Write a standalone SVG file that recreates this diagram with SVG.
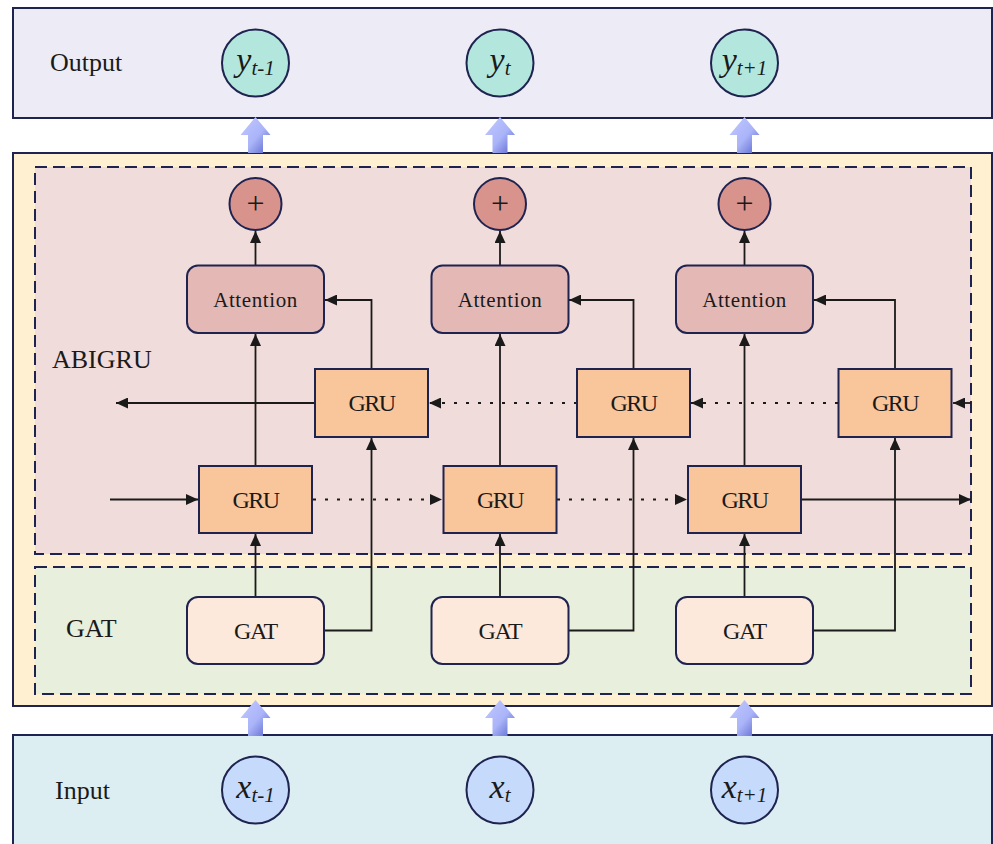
<svg xmlns="http://www.w3.org/2000/svg" width="993" height="844" viewBox="0 0 993 844">
  <style>
    .lbl { font-family: "Liberation Serif", "Times New Roman", serif; fill: #1a1a1a; }
    .sec { font-size: 26px; }
    .box { stroke: #1f2350; stroke-width: 2; }
    .gru { fill: #f9c59b; }
    .att { fill: #e4b9b5; }
    .gat { fill: #fde9dc; }
    .dash { stroke: #1f2350; stroke-width: 2; stroke-dasharray: 12 6; }
    .wire { fill: none; stroke: #1a1a1a; stroke-width: 1.8; }
    .dot { stroke-dasharray: 3 9; }
    .math { font-family: "Liberation Serif", "Times New Roman", serif; font-style: italic; fill: #1a1a1a; }
    .gtxt { font-size: 24px; letter-spacing: -1.5px; }
    .atxt { font-size: 21px; letter-spacing: 0.6px; }
    .ttxt { font-size: 24px; letter-spacing: -1.2px; }
    .ptxt { font-size: 32px; }
  </style>
  <defs>
    <marker id="ah" markerUnits="userSpaceOnUse" markerWidth="13" markerHeight="11" refX="12" refY="5.5" orient="auto">
      <path d="M0,0 L12,5.5 L0,11 z" fill="#1a1a1a"/>
    </marker>
    <linearGradient id="fat" x1="0" y1="0" x2="1" y2="1">
      <stop offset="0" stop-color="#c2c8ff"/>
      <stop offset="0.55" stop-color="#aab4f8"/>
      <stop offset="1" stop-color="#5663cc"/>
    </linearGradient>
  </defs>

  <!-- layer backgrounds -->
  <g id="output-layer">
    <rect x="13" y="8" width="979" height="110" fill="#edebf6" class="box"/>
    <text class="lbl sec" x="50" y="71">Output</text>
  </g>
  <g id="model-layer">
    <rect x="13" y="153" width="979" height="553" fill="#fef0d0" class="box"/>
  </g>
  <g id="abigru-layer">
    <rect x="35" y="167" width="936" height="387" fill="#f0dcdb" class="dash"/>
    <text class="lbl sec" x="52" y="368">ABIGRU</text>
  </g>
  <g id="gat-layer">
    <rect x="35" y="567" width="936" height="127" fill="#e8efdc" class="dash"/>
    <text class="lbl sec" x="66" y="637">GAT</text>
  </g>
  <g id="input-layer">
    <rect x="13" y="735" width="979" height="115" fill="#dceef2" class="box"/>
    <text class="lbl sec" x="55" y="799">Input</text>
  </g>

  <!-- transfer arrows between layers -->
  <g id="layer-arrows" fill="url(#fat)">
    <path d="M255.5,117 L270.5,135 L263,135 L263,153 L248,153 L248,135 L240.5,135 Z"/>
    <path d="M500,117 L515,135 L507.5,135 L507.5,153 L492.5,153 L492.5,135 L485,135 Z"/>
    <path d="M744.5,117 L759.5,135 L752,135 L752,153 L737,153 L737,135 L729.5,135 Z"/>
    <path d="M255.5,700 L270.5,718 L263,718 L263,736 L248,736 L248,718 L240.5,718 Z"/>
    <path d="M500,700 L515,718 L507.5,718 L507.5,736 L492.5,736 L492.5,718 L485,718 Z"/>
    <path d="M744.5,700 L759.5,718 L752,718 L752,736 L737,736 L737,718 L729.5,718 Z"/>
  </g>

  <!-- connectors -->
  <g id="connectors">
    <!-- attention to sum -->
    <path class="wire" d="M255.5,265 V231" marker-end="url(#ah)"/>
    <path class="wire" d="M500,265 V231" marker-end="url(#ah)"/>
    <path class="wire" d="M744.5,265 V231" marker-end="url(#ah)"/>
    <!-- forward GRU to attention -->
    <path class="wire" d="M255.5,466 V334" marker-end="url(#ah)"/>
    <path class="wire" d="M500,466 V334" marker-end="url(#ah)"/>
    <path class="wire" d="M744.5,466 V334" marker-end="url(#ah)"/>
    <!-- backward GRU to attention -->
    <path class="wire" d="M371.5,369 V300 H325" marker-end="url(#ah)"/>
    <path class="wire" d="M633.5,369 V300 H569" marker-end="url(#ah)"/>
    <path class="wire" d="M895,369 V300 H814" marker-end="url(#ah)"/>
    <!-- GAT to forward GRU -->
    <path class="wire" d="M255.5,597 V534" marker-end="url(#ah)"/>
    <path class="wire" d="M500,597 V534" marker-end="url(#ah)"/>
    <path class="wire" d="M744.5,597 V534" marker-end="url(#ah)"/>
    <!-- GAT to backward GRU -->
    <path class="wire" d="M324,630.5 H371.5 V438" marker-end="url(#ah)"/>
    <path class="wire" d="M568,630.5 H633.5 V438" marker-end="url(#ah)"/>
    <path class="wire" d="M813,630.5 H895 V438" marker-end="url(#ah)"/>
    <!-- forward chain -->
    <path class="wire" d="M110,499.5 H198" marker-end="url(#ah)"/>
    <path class="wire dot" d="M313,499.5 H442" marker-end="url(#ah)"/>
    <path class="wire dot" d="M557,499.5 H687" marker-end="url(#ah)"/>
    <path class="wire" d="M801,499.5 H971" marker-end="url(#ah)"/>
    <!-- backward chain -->
    <path class="wire" d="M971,403 H953" marker-end="url(#ah)"/>
    <path class="wire dot" d="M838,403 H691" marker-end="url(#ah)"/>
    <path class="wire dot" d="M577,403 H429" marker-end="url(#ah)"/>
    <path class="wire" d="M315,403 H116" marker-end="url(#ah)"/>
  </g>

  <!-- output nodes -->
  <g id="y-prev">
    <circle cx="255.5" cy="63" r="33.5" fill="#b3e7de" class="box"/>
    <text class="math" x="255.5" y="71" text-anchor="middle"><tspan font-size="34">y</tspan><tspan font-size="21" dy="4">t-1</tspan></text>
  </g>
  <g id="y-cur">
    <circle cx="500" cy="63" r="33.5" fill="#b3e7de" class="box"/>
    <text class="math" x="500" y="71" text-anchor="middle"><tspan font-size="34">y</tspan><tspan font-size="21" dy="4">t</tspan></text>
  </g>
  <g id="y-next">
    <circle cx="744.5" cy="63" r="33.5" fill="#b3e7de" class="box"/>
    <text class="math" x="744.5" y="71" text-anchor="middle"><tspan font-size="34">y</tspan><tspan font-size="21" dy="4">t+1</tspan></text>
  </g>

  <!-- sum nodes -->
  <g id="sum-1">
    <circle cx="255.5" cy="204" r="26" fill="#d8938c" class="box"/>
    <text class="lbl ptxt" x="255.5" y="214" text-anchor="middle">+</text>
  </g>
  <g id="sum-2">
    <circle cx="500" cy="204" r="26" fill="#d8938c" class="box"/>
    <text class="lbl ptxt" x="500" y="214" text-anchor="middle">+</text>
  </g>
  <g id="sum-3">
    <circle cx="744.5" cy="204" r="26" fill="#d8938c" class="box"/>
    <text class="lbl ptxt" x="744.5" y="214" text-anchor="middle">+</text>
  </g>

  <!-- attention nodes -->
  <g id="attention-1">
    <rect x="187" y="265.5" width="137" height="67.5" rx="11" class="box att"/>
    <text class="lbl atxt" x="255.5" y="307" text-anchor="middle">Attention</text>
  </g>
  <g id="attention-2">
    <rect x="431.5" y="265.5" width="137" height="67.5" rx="11" class="box att"/>
    <text class="lbl atxt" x="500" y="307" text-anchor="middle">Attention</text>
  </g>
  <g id="attention-3">
    <rect x="676" y="265.5" width="137" height="67.5" rx="11" class="box att"/>
    <text class="lbl atxt" x="744.5" y="307" text-anchor="middle">Attention</text>
  </g>

  <!-- backward GRU nodes -->
  <g id="gru-back-1">
    <rect x="315" y="369" width="113" height="68" class="box gru"/>
    <text class="lbl gtxt" x="371.5" y="411" text-anchor="middle">GRU</text>
  </g>
  <g id="gru-back-2">
    <rect x="577" y="369" width="113" height="68" class="box gru"/>
    <text class="lbl gtxt" x="633.5" y="411" text-anchor="middle">GRU</text>
  </g>
  <g id="gru-back-3">
    <rect x="838.5" y="369" width="113" height="68" class="box gru"/>
    <text class="lbl gtxt" x="895" y="411" text-anchor="middle">GRU</text>
  </g>

  <!-- forward GRU nodes -->
  <g id="gru-fwd-1">
    <rect x="199" y="466" width="113" height="67" class="box gru"/>
    <text class="lbl gtxt" x="255.5" y="508" text-anchor="middle">GRU</text>
  </g>
  <g id="gru-fwd-2">
    <rect x="443.5" y="466" width="113" height="67" class="box gru"/>
    <text class="lbl gtxt" x="500" y="508" text-anchor="middle">GRU</text>
  </g>
  <g id="gru-fwd-3">
    <rect x="688" y="466" width="113" height="67" class="box gru"/>
    <text class="lbl gtxt" x="744.5" y="508" text-anchor="middle">GRU</text>
  </g>

  <!-- GAT nodes -->
  <g id="gat-1">
    <rect x="187" y="597" width="137" height="67" rx="11" class="box gat"/>
    <text class="lbl ttxt" x="255.5" y="639" text-anchor="middle">GAT</text>
  </g>
  <g id="gat-2">
    <rect x="431.5" y="597" width="137" height="67" rx="11" class="box gat"/>
    <text class="lbl ttxt" x="500" y="639" text-anchor="middle">GAT</text>
  </g>
  <g id="gat-3">
    <rect x="676" y="597" width="137" height="67" rx="11" class="box gat"/>
    <text class="lbl ttxt" x="744.5" y="639" text-anchor="middle">GAT</text>
  </g>

  <!-- input nodes -->
  <g id="x-prev">
    <circle cx="255.5" cy="790" r="33.5" fill="#c6dbfb" class="box"/>
    <text class="math" x="255.5" y="798" text-anchor="middle"><tspan font-size="34">x</tspan><tspan font-size="21" dy="4">t-1</tspan></text>
  </g>
  <g id="x-cur">
    <circle cx="500" cy="790" r="33.5" fill="#c6dbfb" class="box"/>
    <text class="math" x="500" y="798" text-anchor="middle"><tspan font-size="34">x</tspan><tspan font-size="21" dy="4">t</tspan></text>
  </g>
  <g id="x-next">
    <circle cx="744.5" cy="790" r="33.5" fill="#c6dbfb" class="box"/>
    <text class="math" x="744.5" y="798" text-anchor="middle"><tspan font-size="34">x</tspan><tspan font-size="21" dy="4">t+1</tspan></text>
  </g>
</svg>
